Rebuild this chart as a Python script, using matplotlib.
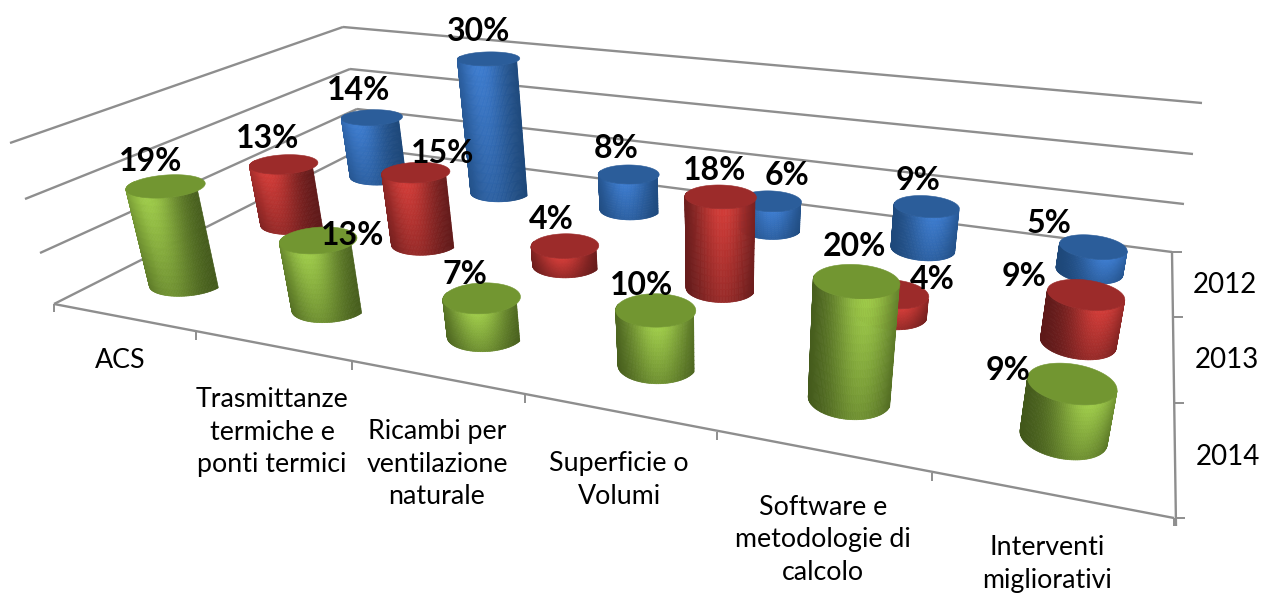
import numpy as np
import matplotlib
matplotlib.use("Agg")
import matplotlib.pyplot as plt
from matplotlib.collections import PolyCollection
from matplotlib.patches import Polygon

categories = ["ACS", "Trasmittanze\ntermiche e\nponti termici", "Ricambi per\nventilazione\nnaturale",
              "Superficie o\nVolumi", "Software e\nmetodologie di\ncalcolo", "Interventi\nmigliorativi"]
years = ["2012", "2013", "2014"]
values_2012 = [14, 30, 8, 6, 9, 5]
values_2013 = [13, 15, 4, 18, 4, 9]
values_2014 = [19, 13, 7, 10, 20, 9]

# ---- layout and style (pixels of the figure canvas) ----
W, H = 1262, 594
CALIB = [  # axes frame: (category pos, depth pos, value) -> canvas
    (0, 0, 0, 54, 304), (6, 0, 0, 1174, 518), (6, 3, 0, 1172, 252), (0, 3, 0, 363, 148),
    (0, 3, 10, 357, 109), (0, 3, 20, 350, 69), (0, 3, 30, 343, 27),
    (6, 3, 10, 1184, 204), (6, 3, 20, 1193, 154), (6, 3, 30, 1202, 103),
    (0, 0, 10, 40, 253), (0, 0, 20, 25, 199), (0, 0, 30, 10, 143),
    (1, 0, 0, 196, 332), (2, 0, 0, 352, 362), (3, 0, 0, 525, 395), (4, 0, 0, 717, 432), (5, 0, 0, 932, 473),
    (6, 1, 0, 1174, 403), (6, 2, 0, 1173, 317),
]
A = []
b = []
for x, y, z, u, v in CALIB:
    A.append([x, y, z, 1, 0, 0, 0, 0, -u*x, -u*y, -u*z]); b.append(u)
    A.append([0, 0, 0, 0, x, y, z, 1, -v*x, -v*y, -v*z]); b.append(v)
p = np.linalg.lstsq(np.array(A, float), np.array(b, float), rcond=None)[0]
M = np.append(p, 1.0).reshape(3, 4)


def proj(x, y, z):
    x, y, z = np.broadcast_arrays(np.asarray(x, float), np.asarray(y, float), np.asarray(z, float))
    w = M[2, 0]*x + M[2, 1]*y + M[2, 2]*z + M[2, 3]
    return ((M[0, 0]*x + M[0, 1]*y + M[0, 2]*z + M[0, 3])/w,
            (M[1, 0]*x + M[1, 1]*y + M[1, 2]*z + M[1, 3])/w)


RX = [0.224, 0.213, 0.208, 0.203, 0.200, 0.194]
RY = 0.19
CX_SHIFT = [0.50, 0.50, 0.50, 0.50, 0.51, 0.52]
COLORS = {
    "2012": dict(bright="#3D7CCF", dark="#1C4575", cap="#2B5D9A"),
    "2013": dict(bright="#D23C38", dark="#5A1818", cap="#9C2B2A"),
    "2014": dict(bright="#9FCC4A", dark="#3F5419", cap="#729631"),
}
LABEL_OFFSETS = {
    "2012": [(-13, -27), (-10, -27), (-13, -26), (17, -26), (-9, -26), (-44, -23)],
    "2013": [(-16, -26), (27, -19), (-14, -26), (-6, -26), (40, -14), (-62, -18)],
    "2014": [(-15, -25), (34, -5), (-17, -23), (-14, -24), (-2, -35), (-64, -13)],
}
CAT_LABEL_POS = [(120, 360), (272, 432), (437, 464), (619, 480), (823, 540), (1047, 564)]
YEAR_LABEL_POS = [(1225, 285), (1227, 360), (1228, 457)]
GRID = "#8E8E8E"
FONT = ["Lato", "DejaVu Sans"]
# frame polylines on the canvas
WALL_FRONT = [(10, 143), (25, 199), (40, 253), (54, 304)]
WALL_CORNER = [(343, 27), (350, 69), (357, 109), (363, 148)]
WALL_BACK = [(1202, 103), (1193, 154), (1184, 204), (1172, 252)]
FRONT_TICKS = [(54, 304), (196, 332), (352, 362), (525, 395), (717, 432), (932, 473), (1174, 518)]
SIDE_TICKS = [(1172, 252), (1173, 317), (1174, 403), (1175, 518)]

fig = plt.figure(figsize=(W/100, H/100), dpi=100)
ax = fig.add_axes([0, 0, 1, 1])
ax.set_xlim(0, W)
ax.set_ylim(H, 0)
ax.axis("off")


def line(a, c, lw=1.7):
    ax.plot([a[0], c[0]], [a[1], c[1]], color=GRID, lw=lw, solid_capstyle="butt", zorder=1)


for a, c, d in zip(WALL_FRONT, WALL_CORNER, WALL_BACK):
    line(a, c)
    line(c, d)
line(FRONT_TICKS[0], FRONT_TICKS[-1])
line(SIDE_TICKS[0], (1176, 526))
for x_, y_ in FRONT_TICKS:
    line((x_, y_), (x_, y_ + 8), 1.4)
for x_, y_ in SIDE_TICKS:
    line((x_, y_), (x_ + 10, y_), 1.4)


def lerp_rgb(c1, c2, g):
    a = np.array(matplotlib.colors.to_rgb(c1))
    c = np.array(matplotlib.colors.to_rgb(c2))
    return a + (c - a)*g


def cylinder(i, j, val, col, zo):
    cx, cy = i + CX_SHIFT[i], j + 0.5
    t = np.linspace(0, 2*np.pi, 145)
    n_v = 14
    zs = np.linspace(0, val, n_v + 1)
    rings = [proj(cx + RX[i]*np.cos(t), cy + RY*np.sin(t), z) for z in zs]
    f = 0.28 + 0.42*i/5
    polys, cols = [], []
    for k in range(n_v):
        x0, y0 = rings[k]
        x1, y1 = rings[k + 1]
        lo, hi = x0.min(), x0.max()
        for m in range(len(t) - 1):
            if not (np.sin(t[m] + 0.02) < 0):  # keep the side facing the viewer
                continue
            q = [(x0[m], y0[m]), (x0[m + 1], y0[m + 1]), (x1[m + 1], y1[m + 1]), (x1[m], y1[m])]
            xm = 0.5*(x0[m] + x0[m + 1])
            u = (xm - lo)/(hi - lo)
            vfrac = (k + 0.5)/n_v
            g = np.exp(-((u - f)/0.40)**2)*(0.5 + 0.5*vfrac)
            polys.append(q)
            cols.append(lerp_rgb(col["dark"], col["bright"], g))
    pc = PolyCollection(polys, facecolors=cols, edgecolors=cols, linewidths=0.5, zorder=zo)
    ax.add_collection(pc)
    xt, yt = rings[-1]
    ax.add_patch(Polygon(np.column_stack([xt, yt]), closed=True, fc=col["cap"], ec=col["cap"], lw=0.4, zorder=zo + 0.1))
    return proj(cx, cy, val)


series = [("2012", values_2012, 2), ("2013", values_2013, 1), ("2014", values_2014, 0)]
zo = 2
for name, vals, j in series:
    for i, v in enumerate(vals):
        tx, ty = cylinder(i, j, v, COLORS[name], zo)
        zo += 1
        dx, dy = LABEL_OFFSETS[name][i]
        ax.text(float(tx) + dx, float(ty) + dy, f"{v}%", ha="center", va="center", fontsize=23,
                fontweight="bold", family=FONT, color="black", zorder=100)

for lab, (x, y) in zip(categories, CAT_LABEL_POS):
    ax.text(x, y, lab, ha="center", va="center", fontsize=19.3, family=FONT, color="black",
            linespacing=1.36, zorder=100)
for lab, (x, y) in zip(years, YEAR_LABEL_POS):
    ax.text(x, y, lab, ha="center", va="center", fontsize=20, family=FONT, color="black", zorder=100)

fig.savefig("out.png", dpi=100)
